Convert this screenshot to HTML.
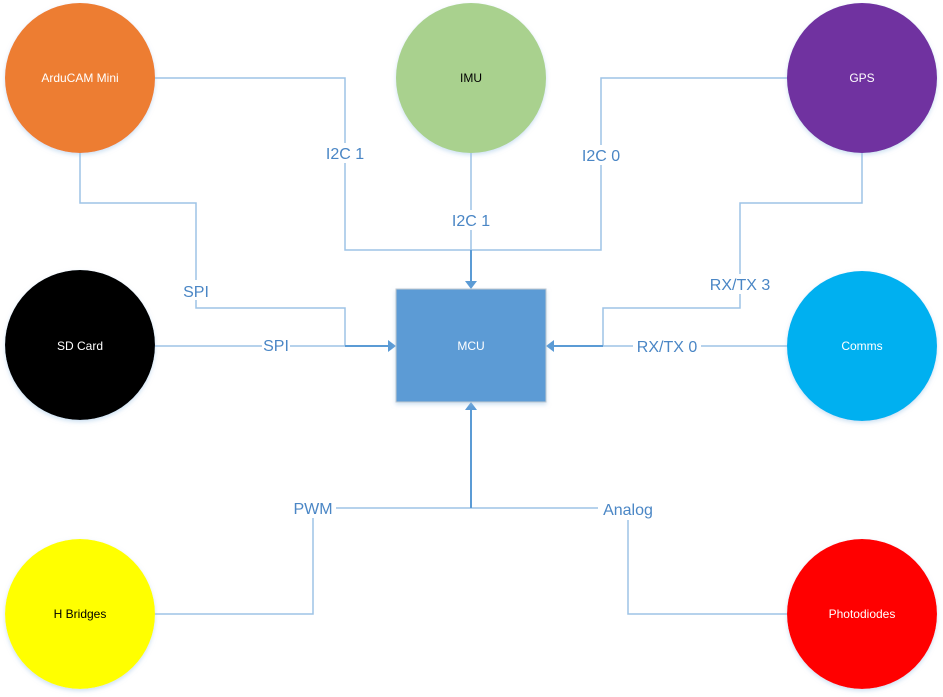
<!DOCTYPE html>
<html><head><meta charset="utf-8"><style>
html,body{margin:0;padding:0;background:#fff;width:943px;height:697px;overflow:hidden}
svg{display:block}
.l{fill:none;stroke:#9dc3e6;stroke-width:1.5}
.a{fill:none;stroke:#5b9bd5;stroke-width:2}
.lab{font-family:"Liberation Sans",sans-serif;font-size:16px;fill:#4a86c5;text-anchor:middle}
.n{font-family:"Liberation Sans",sans-serif;font-size:12px;text-anchor:middle}
</style></head><body>
<svg width="943" height="697" viewBox="0 0 943 697">
<defs>
<filter id="sh" x="-10%" y="-10%" width="120%" height="125%"><feDropShadow dx="0" dy="2" stdDeviation="2" flood-color="#9dc3e6" flood-opacity="0.5"/></filter>
</defs>
<path class="l" d="M155 78H345V250H601V78H787"/>
<path class="l" d="M471 153V250"/>
<path class="a" d="M471 250V282"/>
<path class="l" d="M80 153V203H196V308H345V346"/>
<path class="l" d="M155 346H345"/>
<path class="a" d="M345 346H389"/>
<path class="l" d="M862 153V203H740V308H603V346"/>
<path class="l" d="M787 346H603"/>
<path class="a" d="M603 346H553"/>
<path class="l" d="M155 614H313V508H628V614H787"/>
<path class="a" d="M471 508V409"/>
<polygon points="465,281 477,281 471,289" fill="#5b9bd5"/>
<polygon points="388,340 388,352 396,346" fill="#5b9bd5"/>
<polygon points="554,340 554,352 546,346" fill="#5b9bd5"/>
<polygon points="465,410 477,410 471,402" fill="#5b9bd5"/>
<rect x="325" y="143" width="40" height="20" fill="#fff"/>
<rect x="581" y="145" width="40" height="20" fill="#fff"/>
<rect x="450" y="210" width="42" height="20" fill="#fff"/>
<rect x="182" y="280" width="28" height="20" fill="#fff"/>
<rect x="262" y="335" width="28" height="20" fill="#fff"/>
<rect x="706" y="274" width="68" height="20" fill="#fff"/>
<rect x="633" y="336" width="68" height="20" fill="#fff"/>
<rect x="290" y="498" width="46" height="20" fill="#fff"/>
<rect x="598" y="498" width="60" height="22" fill="#fff"/>
<text class="lab" x="345" y="159">I2C 1</text>
<text class="lab" x="601" y="161">I2C 0</text>
<text class="lab" x="471" y="226">I2C 1</text>
<text class="lab" x="196" y="297">SPI</text>
<text class="lab" x="276" y="351">SPI</text>
<text class="lab" x="740" y="290">RX/TX 3</text>
<text class="lab" x="667" y="352">RX/TX 0</text>
<text class="lab" x="313" y="514">PWM</text>
<text class="lab" x="628" y="515">Analog</text>
<g filter="url(#sh)">
<circle cx="80" cy="78" r="75" fill="#ed7d31"/>
<circle cx="471" cy="78" r="75" fill="#a9d18e"/>
<circle cx="862" cy="78" r="75" fill="#7030a0"/>
<circle cx="80" cy="345" r="75" fill="#000"/>
<circle cx="862" cy="346" r="75" fill="#00b0f0"/>
<circle cx="80" cy="614" r="75" fill="#ffff00"/>
<circle cx="862" cy="614" r="75" fill="#ff0000"/>
<rect x="396" y="289" width="150" height="113" fill="#5b9bd5" stroke="#c0c8d0" stroke-width="1"/>
</g>
<text class="n" x="80" y="82" fill="#fff">ArduCAM Mini</text>
<text class="n" x="471" y="82" fill="#000">IMU</text>
<text class="n" x="862" y="82" fill="#fff">GPS</text>
<text class="n" x="80" y="350" fill="#fff">SD Card</text>
<text class="n" x="862" y="350" fill="#fff">Comms</text>
<text class="n" x="80" y="618" fill="#000">H Bridges</text>
<text class="n" x="862" y="618" fill="#fff">Photodiodes</text>
<text class="n" x="471" y="350" fill="#fff">MCU</text>
</svg>
</body></html>
